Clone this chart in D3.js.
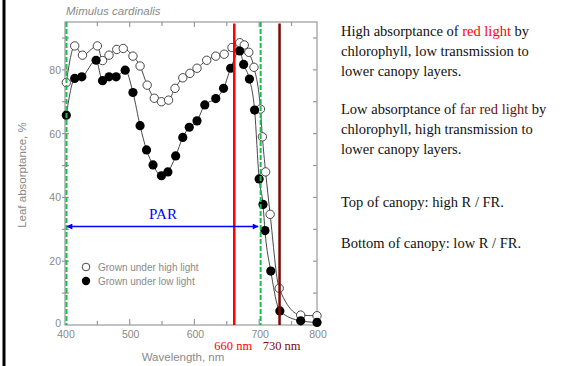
<!DOCTYPE html>
<html>
<head>
<meta charset="utf-8">
<script src="https://cdnjs.cloudflare.com/ajax/libs/d3/7.8.5/d3.min.js"></script>
<style>
  body { margin: 0; background: #fff; }
  svg { display: block; }
</style>
</head>
<body>
<div id="chart"></div>
<script>
// leaf absorptance, Mimulus cardinalis
var highWl  = [402, 415, 427, 450, 458, 468, 480, 490, 505, 516, 527, 538, 549, 560, 570, 582, 593, 604, 619, 633, 646, 658, 670, 677, 684, 692, 702, 705, 710, 717, 731, 768, 800];
var highVal = [76, 87.5, 84.6, 87.5, 82.9, 84.6, 86.4, 86.7, 84.3, 81.2, 75.2, 71.1, 70, 70.5, 74.2, 77.5, 78.9, 80.5, 83, 84.3, 84.9, 87, 88.5, 87.8, 85.5, 80.8, 67.7, 59, 48, 34.7, 11.5, 3.1, 2.9];

var lowWl  = [402, 415, 426, 448, 458, 468, 479, 493, 505, 516, 526, 536, 549, 559, 571, 582, 592, 604, 616, 633, 645, 656, 670, 676, 685, 693, 700, 706, 709, 718, 732, 768, 800];
var lowVal = [65.8, 77.3, 77.8, 83, 76.6, 77.8, 77.8, 79.9, 72.9, 62.5, 54.9, 50.2, 46.8, 48, 53, 58.8, 62, 64, 69, 71, 74.2, 80.5, 85.9, 81.7, 77.1, 67.4, 45.8, 37.8, 29.6, 16.9, 4.4, 1.3, 0.8];

var xTickLabels = [400, 500, 600, 700, 800];
var yTickLabels = [0, 20, 40, 60, 80];
var parRange = [400, 700];
var redLine = 660;
var farRedLine = 730;

var width = 588, height = 366;
var svg = d3.select("#chart").append("svg")
    .attr("width", width)
    .attr("height", height);

svg.append("rect").attr("width", width).attr("height", height).attr("fill", "#fff");

// black rule on left edge
svg.append("line")
    .attr("x1", 4).attr("x2", 4)
    .attr("y1", 0).attr("y2", height)
    .attr("stroke", "#000").attr("stroke-width", 3);

// the original axis squeezes the last 50 nm a bit
var x = d3.scaleLinear().domain([400, 750, 800]).range([65, 291.5, 317]);
var y = d3.scaleLinear().domain([0, 95]).range([325, 22]);

var axisColor = "#999";
var textGray = "#8a8a8a";
var sans = "'Liberation Sans', Arial, sans-serif";
var serif = "'Liberation Serif', 'Times New Roman', serif";

// frame
svg.append("rect")
    .attr("x", x(400)).attr("y", y(95))
    .attr("width", x(800) - x(400)).attr("height", y(0) - y(95))
    .attr("fill", "none").attr("stroke", axisColor).attr("stroke-width", 1.2);

// x ticks, bottom and top
var xTicks = d3.range(450, 800, 50);
svg.selectAll(".xtb").data(xTicks).enter().append("line")
    .attr("x1", function (d) { return x(d); }).attr("x2", function (d) { return x(d); })
    .attr("y1", y(0))
    .attr("y2", function (d) { return y(0) - (d % 100 == 0 ? 6 : 4); })
    .attr("stroke", axisColor).attr("stroke-width", 1.2);
svg.selectAll(".xtt").data(xTicks).enter().append("line")
    .attr("x1", function (d) { return x(d); }).attr("x2", function (d) { return x(d); })
    .attr("y1", y(95))
    .attr("y2", function (d) { return y(95) + (d % 100 == 0 ? 5 : 4); })
    .attr("stroke", axisColor).attr("stroke-width", 1.2);

svg.selectAll(".xlab").data(xTickLabels).enter().append("text")
    .attr("x", function (d) { return x(d) + 1; })
    .attr("y", y(0) + 12.5)
    .attr("text-anchor", "middle")
    .attr("font-family", sans).attr("font-size", 10.5)
    .attr("fill", textGray)
    .text(function (d) { return d; });

// y ticks, left and right
var yTicks = d3.range(10, 95, 10);
svg.selectAll(".ytl").data(yTicks).enter().append("line")
    .attr("x1", x(400) - 3).attr("x2", x(400) + 4)
    .attr("y1", function (d) { return y(d); }).attr("y2", function (d) { return y(d); })
    .attr("stroke", axisColor).attr("stroke-width", 1.2);
svg.selectAll(".ytr").data(yTicks).enter().append("line")
    .attr("x1", x(800)).attr("x2", x(800) - 4)
    .attr("y1", function (d) { return y(d); }).attr("y2", function (d) { return y(d); })
    .attr("stroke", axisColor).attr("stroke-width", 1.2);

svg.selectAll(".ylab").data(yTickLabels).enter().append("text")
    .attr("x", x(400) - 4)
    .attr("y", function (d) { return d == 0 ? y(d) + 2 : y(d) + 4; })
    .attr("text-anchor", "end")
    .attr("font-family", sans).attr("font-size", 10.5)
    .attr("fill", textGray)
    .text(function (d) { return d; });

// titles
svg.append("text")
    .attr("x", 66).attr("y", 15)
    .attr("font-family", sans).attr("font-size", 11.5)
    .attr("font-style", "italic")
    .attr("fill", textGray)
    .text("Mimulus cardinalis");

svg.append("text")
    .attr("transform", "translate(26," + y(47) + ") rotate(-90)")
    .attr("text-anchor", "middle")
    .attr("font-family", sans).attr("font-size", 11.5)
    .attr("fill", textGray)
    .text("Leaf absorptance, %");

svg.append("text")
    .attr("x", 183).attr("y", 361)
    .attr("text-anchor", "middle")
    .attr("font-family", sans).attr("font-size", 11.5)
    .attr("fill", textGray)
    .text("Wavelength, nm");

// series
var high = highWl.map(function (w, i) { return { wl: w, v: highVal[i] }; });
var low = lowWl.map(function (w, i) { return { wl: w, v: lowVal[i] }; });

var line = d3.line()
    .x(function (d) { return x(d.wl); })
    .y(function (d) { return y(d.v); })
    .curve(d3.curveMonotoneX);

[high, low].forEach(function (s) {
    svg.append("path")
        .datum(s)
        .attr("d", line)
        .attr("fill", "none")
        .attr("stroke", "#333")
        .attr("stroke-width", 0.9);
});

svg.selectAll(".hi").data(high).enter().append("circle")
    .attr("cx", function (d) { return x(d.wl); })
    .attr("cy", function (d) { return y(d.v); })
    .attr("r", 4.2)
    .attr("fill", "#fff").attr("stroke", "#333").attr("stroke-width", 0.9);

svg.selectAll(".lo").data(low).enter().append("circle")
    .attr("cx", function (d) { return x(d.wl); })
    .attr("cy", function (d) { return y(d.v); })
    .attr("r", 4.6)
    .attr("fill", "#000");

// legend
svg.append("circle").attr("cx", 86).attr("cy", 267).attr("r", 3.8)
    .attr("fill", "#fff").attr("stroke", "#333").attr("stroke-width", 0.9);
svg.append("circle").attr("cx", 86).attr("cy", 281).attr("r", 4.2).attr("fill", "#000");
svg.append("text").attr("x", 98).attr("y", 270.5)
    .attr("font-family", sans).attr("font-size", 10)
    .attr("fill", textGray).text("Grown under high light");
svg.append("text").attr("x", 98).attr("y", 284.5)
    .attr("font-family", sans).attr("font-size", 10)
    .attr("fill", textGray).text("Grown under low light");

// PAR bounds
svg.selectAll(".par").data(parRange).enter().append("line")
    .attr("x1", function (d) { return x(d) + 1.5; }).attr("x2", function (d) { return x(d) + 1.5; })
    .attr("y1", y(95)).attr("y2", y(0))
    .attr("stroke", "#1db954").attr("stroke-width", 2)
    .attr("stroke-dasharray", "5,2");

// red / far red lines
svg.append("line")
    .attr("x1", x(redLine) + 1).attr("x2", x(redLine) + 1)
    .attr("y1", y(94.5)).attr("y2", y(0))
    .attr("stroke", "#ff0000").attr("stroke-width", 2.5);
svg.append("line")
    .attr("x1", x(farRedLine) + 1).attr("x2", x(farRedLine) + 1)
    .attr("y1", y(94.5)).attr("y2", y(0))
    .attr("stroke", "#7a0a0a").attr("stroke-width", 2.5);

svg.append("text")
    .attr("x", x(redLine)).attr("y", 350)
    .attr("text-anchor", "middle")
    .attr("font-family", serif).attr("font-size", 12.5)
    .attr("fill", "#ff0000").text(redLine + " nm");
svg.append("text")
    .attr("x", x(farRedLine) + 3).attr("y", 350)
    .attr("text-anchor", "middle")
    .attr("font-family", serif).attr("font-size", 12.5)
    .attr("fill", "#7a0a0a").text(farRedLine + " nm");

// PAR arrow
var defs = svg.append("defs");
defs.append("marker")
    .attr("id", "ah")
    .attr("viewBox", "0 0 10 10")
    .attr("refX", 9).attr("refY", 5)
    .attr("markerWidth", 7).attr("markerHeight", 6)
    .attr("markerUnits", "userSpaceOnUse")
    .attr("orient", "auto-start-reverse")
    .append("path").attr("d", "M0,0 L10,5 L0,10 Z").attr("fill", "#0000ff");

svg.append("line")
    .attr("x1", x(parRange[0]) + 2).attr("x2", x(parRange[1]) - 1)
    .attr("y1", 226.5).attr("y2", 226.5)
    .attr("stroke", "#0000ff").attr("stroke-width", 1.5)
    .attr("marker-start", "url(#ah)")
    .attr("marker-end", "url(#ah)");
svg.append("text")
    .attr("x", 163).attr("y", 219)
    .attr("text-anchor", "middle")
    .attr("font-family", serif).attr("font-size", 15)
    .attr("fill", "#0000ff").text("PAR");

// notes on the right
var notes = [
    { y: 36, parts: [["High absorptance of ", "#111"], ["red light", "#ff0000"], [" by", "#111"]] },
    { y: 56, parts: [["chlorophyll, low transmission to", "#111"]] },
    { y: 76, parts: [["lower canopy layers.", "#111"]] },
    { y: 114, parts: [["Low absorptance of ", "#111"], ["far red light", "#7a0a0a"], [" by", "#111"]] },
    { y: 134, parts: [["chlorophyll, high transmission to", "#111"]] },
    { y: 154, parts: [["lower canopy layers.", "#111"]] },
    { y: 207, parts: [["Top of canopy: high R / FR.", "#111"]] },
    { y: 248, parts: [["Bottom of canopy: low R / FR.", "#111"]] }
];

notes.forEach(function (n) {
    var t = svg.append("text")
        .attr("x", 341).attr("y", n.y)
        .attr("font-family", serif).attr("font-size", 14.5);
    n.parts.forEach(function (p) {
        t.append("tspan").attr("fill", p[1]).text(p[0]);
    });
});
</script>
</body>
</html>
